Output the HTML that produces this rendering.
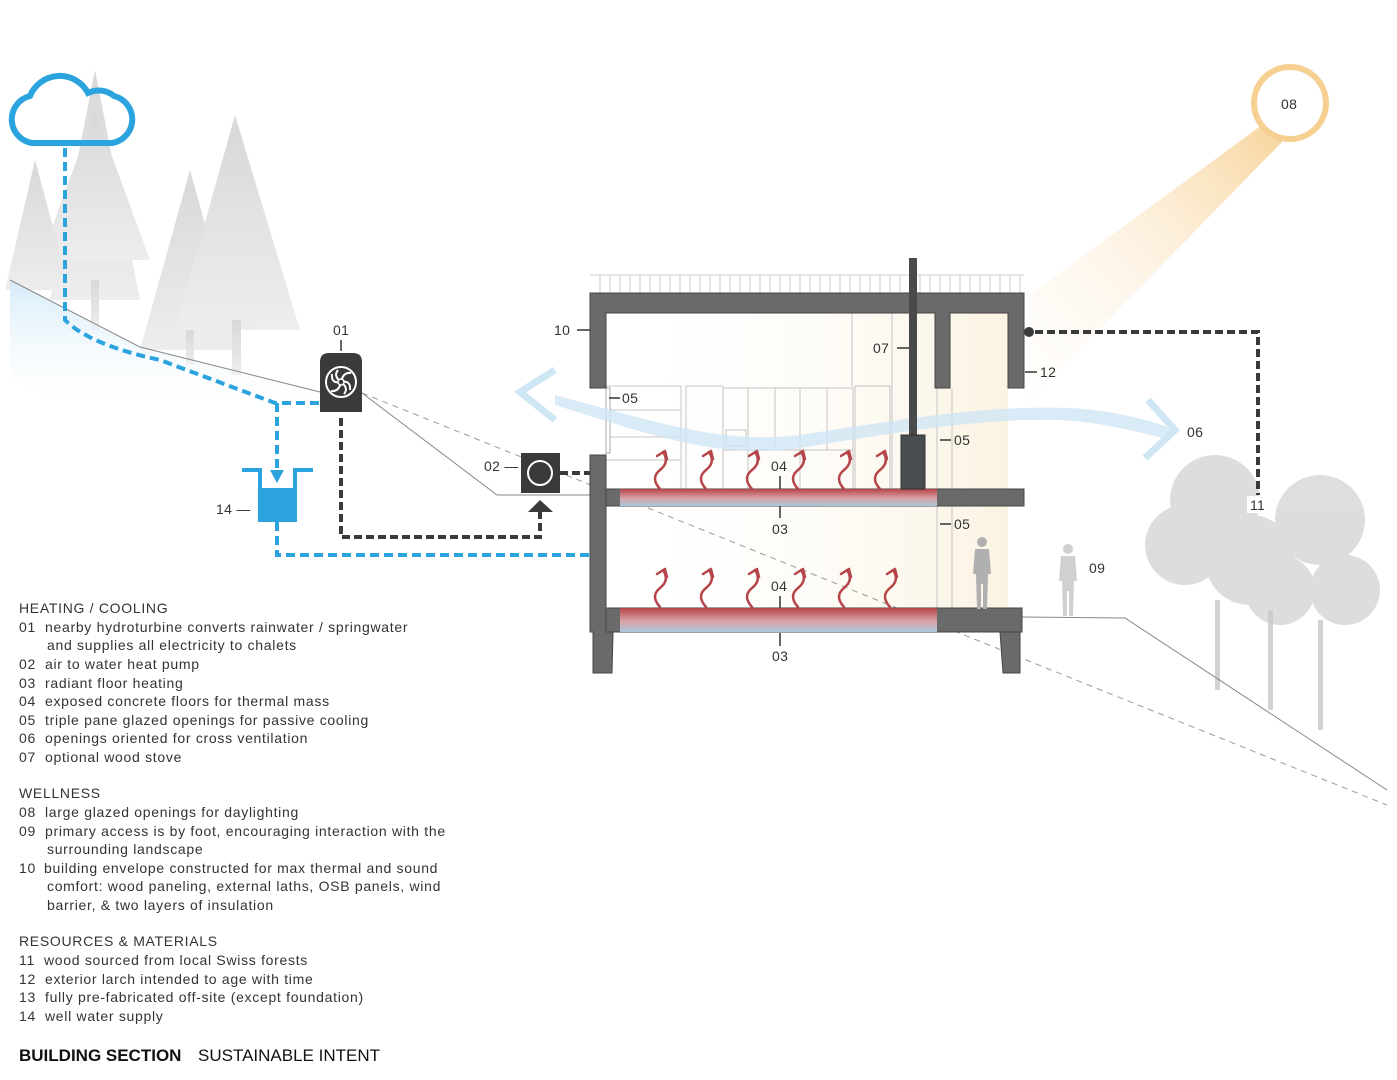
<!DOCTYPE html>
<html><head><meta charset="utf-8"><style>
html,body{margin:0;padding:0;background:#fff;}
svg{display:block;}
text{font-family:"Liberation Sans",sans-serif;fill:#333;}
.lg{font-size:14px;letter-spacing:0.7px;}
.lb{font-size:14px;letter-spacing:0.3px;}
</style></head><body>
<svg width="1397" height="1080" viewBox="0 0 1397 1080" xmlns="http://www.w3.org/2000/svg">
<defs>
<linearGradient id="heat" x1="0" y1="0" x2="0" y2="1"><stop offset="0" stop-color="#b5454a"/><stop offset="0.55" stop-color="#d9a3a6"/><stop offset="1" stop-color="#a9c8dd"/></linearGradient>
<linearGradient id="beam" x1="1" y1="0" x2="0" y2="1"><stop offset="0" stop-color="#f5c67a" stop-opacity="0.75"/><stop offset="0.6" stop-color="#fbe6c6" stop-opacity="0.35"/><stop offset="1" stop-color="#fdf0dc" stop-opacity="0.05"/></linearGradient>
<linearGradient id="warm" x1="0" y1="0" x2="1" y2="0"><stop offset="0" stop-color="#fff" stop-opacity="0"/><stop offset="1" stop-color="#fbf3e2"/></linearGradient>
<linearGradient id="water" x1="0" y1="0" x2="0" y2="1"><stop offset="0" stop-color="#d6ebf8"/><stop offset="1" stop-color="#fff" stop-opacity="0"/></linearGradient>
<linearGradient id="trees" x1="0" y1="0" x2="0" y2="1"><stop offset="0" stop-color="#c8c8c8"/><stop offset="1" stop-color="#e6e6e6"/></linearGradient>
</defs>

<!-- left trees -->
<g fill="url(#trees)" opacity="0.7">
<polygon points="95,70 140,300 50,300"/><polygon points="95,110 150,260 40,260"/>
<polygon points="190,170 240,350 140,350"/><polygon points="235,115 300,330 175,330"/>
<polygon points="35,160 70,290 5,290"/>
<rect x="91" y="280" width="8" height="50"/><rect x="186" y="330" width="8" height="35"/><rect x="232" y="320" width="9" height="55"/>
</g>
<polygon points="10,280 140,347 320,392 320,420 60,400 10,380" fill="url(#water)"/>

<!-- sun beam -->
<polygon points="1262,125 1284,140 1030,400 1030,295" fill="url(#beam)"/>
<rect x="606" y="313" width="402" height="296" fill="url(#warm)"/>

<!-- right trees -->
<g fill="#d0d0d0" opacity="0.7">
<circle cx="1215" cy="500" r="45"/><circle cx="1185" cy="545" r="40"/><circle cx="1250" cy="560" r="45"/><circle cx="1320" cy="520" r="45"/><circle cx="1345" cy="590" r="35"/><circle cx="1280" cy="590" r="35"/>
</g>
<g fill="#c8c8c8" opacity="0.8"><rect x="1215" y="600" width="5" height="90"/><rect x="1268" y="610" width="5" height="100"/><rect x="1318" y="620" width="5" height="110"/></g>

<!-- ground lines -->
<polyline points="10,280 140,347 320,392" fill="none" stroke="#888" stroke-width="1"/>
<polyline points="362,393 497,495 590,495" fill="none" stroke="#888" stroke-width="1"/>
<line x1="362" y1="393" x2="1387" y2="805" stroke="#999" stroke-width="1" stroke-dasharray="6,5"/>
<polyline points="1022,617 1125,618 1387,790" fill="none" stroke="#888" stroke-width="1"/>

<!-- cloud -->
<path d="M32,143 L112,143 A24,24 0 0 0 114,96 A24,24 0 0 0 88,93 A32,32 0 0 0 30,96 A24,24 0 0 0 32,143 Z" fill="none" stroke="#2aa3df" stroke-width="6"/>
<!-- blue dashes -->
<g fill="none" stroke="#2aa3df" stroke-width="4" stroke-dasharray="9,5">
<path d="M65,148 L65,320 Q90,345 160,360 L275,403 L320,403"/>
<path d="M277,403 L277,468"/>
<path d="M277,522 L277,555 L590,555"/>
</g>
<polygon points="270,470 284,470 277,483" fill="#2aa3df"/>
<path d="M242,470 H260 V520 H295 V470 H313" fill="none" stroke="#2aa3df" stroke-width="4"/>
<rect x="260" y="488" width="35" height="34" fill="#2aa3df"/>
<text x="216" y="514" class="lb">14 —</text>

<!-- turbine -->
<path d="M320,412 V362 Q320,353 329,353 H353 Q362,353 362,362 V412 Z" fill="#3a3a3a"/>
<circle cx="341" cy="382" r="15" fill="none" stroke="#fff" stroke-width="2"/>
<g stroke="#fff" stroke-width="2" fill="none"><path d="M341,382 q2,-10 10,-9"/><path d="M341,382 q10,-2 9,8"/><path d="M341,382 q-2,10 -10,9"/><path d="M341,382 q-10,2 -9,-8"/><path d="M341,382 q8,6 3,12"/><path d="M341,382 q-8,-6 -3,-12"/></g>
<circle cx="341" cy="382" r="3" fill="#3a3a3a" stroke="#fff" stroke-width="1.5"/>
<line x1="341" y1="340" x2="341" y2="351" stroke="#333" stroke-width="1.5"/>
<text x="333" y="335" class="lb">01</text>

<!-- dark dashes -->
<g fill="none" stroke="#3a3a3a" stroke-width="4" stroke-dasharray="8,4">
<path d="M341,418 L341,537 L540,537 L540,512"/>
<path d="M560,473 L601,473 L601,622 L615,622"/>
<path d="M601,497 L615,497"/>
<path d="M1035,332 L1258,332 L1258,495"/>
</g>
<polygon points="528,512 553,512 540,500" fill="#3a3a3a"/>
<circle cx="1029" cy="332" r="5" fill="#3a3a3a"/>
<rect x="521" y="453" width="39" height="40" fill="#3a3a3a"/>
<circle cx="540" cy="473" r="12" fill="none" stroke="#fff" stroke-width="2"/>
<text x="484" y="471" class="lb">02 —</text>

<!-- roof railing -->
<g stroke="#ccc" stroke-width="1"><line x1="590" y1="275" x2="1024" y2="275"/>
<path d="M600,275v18M610,275v18M620,275v18M630,275v18M640,275v18M650,275v18M660,275v18M670,275v18M680,275v18M690,275v18M700,275v18M710,275v18M720,275v18M730,275v18M740,275v18M750,275v18M760,275v18M770,275v18M780,275v18M790,275v18M800,275v18M810,275v18M820,275v18M830,275v18M840,275v18M850,275v18M860,275v18M870,275v18M880,275v18M890,275v18M900,275v18M910,275v18M920,275v18M930,275v18M940,275v18M950,275v18M960,275v18M970,275v18M980,275v18M990,275v18M1000,275v18M1010,275v18M1020,275v18"/></g>

<!-- interior furniture -->
<g fill="none" stroke="#c4c4c4" stroke-width="1">
<rect x="606" y="386" width="75" height="103"/><line x1="606" y1="410" x2="681" y2="410"/><line x1="606" y1="437" x2="681" y2="437"/><line x1="606" y1="460" x2="681" y2="460"/>
<rect x="686" y="386" width="37" height="103"/><rect x="723" y="388" width="130" height="101"/>
<line x1="723" y1="450" x2="853" y2="450"/><line x1="748" y1="388" x2="748" y2="489"/><line x1="775" y1="388" x2="775" y2="450"/><line x1="800" y1="388" x2="800" y2="489"/><line x1="827" y1="388" x2="827" y2="450"/>
<rect x="726" y="430" width="20" height="16"/><rect x="855" y="386" width="35" height="103"/>
<line x1="852" y1="313" x2="852" y2="386"/><line x1="892" y1="313" x2="892" y2="489"/><line x1="937" y1="388" x2="937" y2="609"/><line x1="952" y1="388" x2="952" y2="609"/>
</g>
<rect x="606" y="388" width="4" height="65" fill="#fff" stroke="#aaa"/>

<!-- air flow -->
<path d="M555,395 C650,420 720,445 800,435 C900,420 980,405 1070,408 C1110,410 1150,420 1170,428 L1170,440 C1140,432 1100,422 1060,420 C980,418 900,432 800,448 C720,460 650,435 555,405 Z" fill="#cfe6f5" opacity="0.8"/>
<polyline points="555,370 520,392 555,420" fill="none" stroke="#cfe6f5" stroke-width="7"/>
<polyline points="1148,400 1175,430 1145,458" fill="none" stroke="#cfe6f5" stroke-width="7"/>

<!-- structure -->
<g fill="#6a6a6a" stroke="#444" stroke-width="1">
<path d="M590,293 H1024 V388 H1008 V313 H950 V388 H935 V313 H606 V388 H590 Z"/>
<rect x="606" y="489" width="418" height="17"/>
<rect x="606" y="608" width="416" height="24"/>
<path d="M590,455 H606 V632 H613 L612,673 H593 V632 H590 Z"/>
<path d="M1000,632 H1020 V673 H1003 Z"/>
</g>
<rect x="620" y="489" width="317" height="17" fill="url(#heat)"/>
<rect x="620" y="608" width="317" height="24" fill="url(#heat)"/>
<rect x="909" y="258" width="8" height="178" fill="#4a4a4a"/>
<rect x="901" y="435" width="24" height="54" fill="#4a4d50" stroke="#333"/>

<!-- heat arrows -->
<g fill="none" stroke="#b5454a" stroke-width="2.5" stroke-linecap="round" stroke-linejoin="round">
<path d="M660,489 q-10,-11 0,-19 q10,-8 3,-18 M657,456 l8,-5 l2,8"/>
<path d="M706,489 q-10,-11 0,-19 q10,-8 3,-18 M703,456 l8,-5 l2,8"/>
<path d="M752,489 q-10,-11 0,-19 q10,-8 3,-18 M749,456 l8,-5 l2,8"/>
<path d="M798,489 q-10,-11 0,-19 q10,-8 3,-18 M795,456 l8,-5 l2,8"/>
<path d="M844,489 q-10,-11 0,-19 q10,-8 3,-18 M841,456 l8,-5 l2,8"/>
<path d="M880,489 q-10,-11 0,-19 q10,-8 3,-18 M877,456 l8,-5 l2,8"/>
<path d="M660,607 q-10,-11 0,-19 q10,-8 3,-18 M657,574 l8,-5 l2,8"/>
<path d="M706,607 q-10,-11 0,-19 q10,-8 3,-18 M703,574 l8,-5 l2,8"/>
<path d="M752,607 q-10,-11 0,-19 q10,-8 3,-18 M749,574 l8,-5 l2,8"/>
<path d="M798,607 q-10,-11 0,-19 q10,-8 3,-18 M795,574 l8,-5 l2,8"/>
<path d="M844,607 q-10,-11 0,-19 q10,-8 3,-18 M841,574 l8,-5 l2,8"/>
<path d="M890,607 q-10,-11 0,-19 q10,-8 3,-18 M887,574 l8,-5 l2,8"/>
</g>

<!-- persons -->
<g fill="#b0b0b0"><circle cx="982" cy="542" r="5"/><path d="M975,549 h14 l2,25 h-3 l-1,35 h-4 v-25 h-2 v25 h-4 l-1,-35 h-3 Z"/>
<circle cx="1068" cy="549" r="5" opacity="0.6"/><path d="M1061,556 h14 l2,25 h-3 l-1,35 h-4 v-25 h-2 v25 h-4 l-1,-35 h-3 Z" opacity="0.6"/></g>

<!-- labels -->
<g stroke="#333" stroke-width="1.5">
<line x1="577" y1="330" x2="590" y2="330"/><line x1="609" y1="398" x2="620" y2="398"/><line x1="897" y1="348" x2="909" y2="348"/>
<line x1="1025" y1="372" x2="1037" y2="372"/><line x1="940" y1="440" x2="951" y2="440"/><line x1="940" y1="524" x2="951" y2="524"/>
<line x1="780" y1="476" x2="780" y2="489"/><line x1="780" y1="506" x2="780" y2="518"/><line x1="780" y1="596" x2="780" y2="608"/><line x1="780" y1="633" x2="780" y2="646"/>
</g>
<g class="lb">
<text x="554" y="335" class="lb">10</text><text x="622" y="403" class="lb">05</text><text x="873" y="353" class="lb">07</text>
<text x="1040" y="377" class="lb">12</text><text x="954" y="445" class="lb">05</text><text x="954" y="529" class="lb">05</text>
<text x="771" y="471" class="lb">04</text><text x="772" y="534" class="lb">03</text><text x="771" y="591" class="lb">04</text><text x="772" y="661" class="lb">03</text>
<text x="1187" y="437" class="lb">06</text><text x="1089" y="573" class="lb">09</text>
</g>
<rect x="1247" y="496" width="22" height="17" fill="#fff"/><text x="1250" y="510" class="lb">11</text>

<!-- sun -->
<circle cx="1290" cy="103" r="36" fill="#fff" stroke="#f5d090" stroke-width="6"/>
<text x="1281" y="109" class="lb">08</text>

<!-- legend -->
<g class="lg">
<text x="19" y="613">HEATING / COOLING</text>
<text x="19" y="632">01</text><text x="45" y="632">nearby hydroturbine converts rainwater / springwater</text>
<text x="47" y="650">and supplies all electricity to chalets</text>
<text x="19" y="669">02</text><text x="45" y="669">air to water heat pump</text>
<text x="19" y="688">03</text><text x="45" y="688">radiant floor heating</text>
<text x="19" y="706">04</text><text x="45" y="706">exposed concrete floors for thermal mass</text>
<text x="19" y="725">05</text><text x="45" y="725">triple pane glazed openings for passive cooling</text>
<text x="19" y="743">06</text><text x="45" y="743">openings oriented for cross ventilation</text>
<text x="19" y="762">07</text><text x="45" y="762">optional wood stove</text>
<text x="19" y="798">WELLNESS</text>
<text x="19" y="817">08</text><text x="45" y="817">large glazed openings for daylighting</text>
<text x="19" y="836">09</text><text x="45" y="836">primary access is by foot, encouraging interaction with the</text>
<text x="47" y="854">surrounding landscape</text>
<text x="19" y="873">10</text><text x="44" y="873">building envelope constructed for max thermal and sound</text>
<text x="47" y="891">comfort: wood paneling, external laths, OSB panels, wind</text>
<text x="47" y="910">barrier, &amp; two layers of insulation</text>
<text x="19" y="946">RESOURCES &amp; MATERIALS</text>
<text x="19" y="965">11</text><text x="44" y="965">wood sourced from local Swiss forests</text>
<text x="19" y="984">12</text><text x="45" y="984">exterior larch intended to age with time</text>
<text x="19" y="1002">13</text><text x="45" y="1002">fully pre-fabricated off-site (except foundation)</text>
<text x="19" y="1021">14</text><text x="45" y="1021">well water supply</text>
</g>
<text x="19" y="1061" style="font-size:17px;fill:#111" font-weight="bold">BUILDING SECTION</text>
<text x="198" y="1061" style="font-size:17px;fill:#111">SUSTAINABLE INTENT</text>
</svg>
</body></html>
